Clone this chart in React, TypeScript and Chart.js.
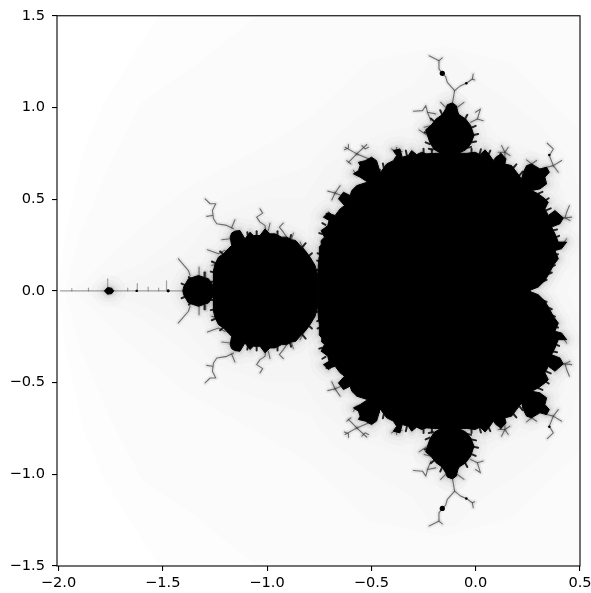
import React, { useEffect, useRef } from "react";
import { Chart, registerables } from "chart.js";

Chart.register(...registerables);

type P = [number, number];

// Values, upper half (the figure is symmetric about y = 0).
const mainBody: P[] = [
  [-0.752,0],[-0.757,0.084],[-0.754,0.148],[-0.751,0.184],[-0.748,0.211],[-0.751,0.239],[-0.738,0.257],[-0.741,0.275],[-0.725,0.293],[-0.741,0.329],[-0.722,0.344],[-0.709,0.357],[-0.703,0.384],[-0.73,0.402],[-0.706,0.429],[-0.69,0.417],[-0.674,0.411],[-0.65,0.447],[-0.629,0.465],[-0.658,0.502],[-0.634,0.538],[-0.602,0.52],[-0.594,0.547],[-0.57,0.574],[-0.546,0.583],[-0.518,0.593],[-0.554,0.62],[-0.586,0.638],[-0.562,0.656],[-0.554,0.683],[-0.562,0.701],[-0.53,0.71],[-0.499,0.729],[-0.475,0.71],[-0.463,0.665],[-0.459,0.642],[-0.427,0.692],[-0.395,0.71],[-0.379,0.738],[-0.395,0.765],[-0.363,0.774],[-0.352,0.729],[-0.323,0.738],[-0.307,0.765],[-0.283,0.743],[-0.259,0.756],[-0.235,0.747],[-0.195,0.75],
  [-0.083,0.75],[-0.043,0.75],[-0.003,0.756],[0.021,0.743],[0.045,0.769],[0.068,0.738],[0.084,0.711],[0.1,0.732],[0.124,0.747],[0.145,0.72],[0.14,0.692],[0.172,0.683],[0.196,0.647],[0.22,0.611],[0.228,0.647],[0.244,0.683],[0.268,0.692],[0.308,0.665],[0.34,0.674],[0.353,0.647],[0.332,0.62],[0.34,0.583],[0.308,0.556],[0.268,0.547],[0.3,0.529],[0.332,0.502],[0.348,0.484],[0.332,0.447],[0.348,0.411],[0.38,0.438],[0.42,0.398],[0.404,0.366],[0.364,0.348],[0.38,0.311],[0.396,0.266],[0.436,0.266],[0.412,0.23],[0.38,0.22],[0.396,0.175],[0.372,0.139],[0.356,0.103],[0.332,0.057],[0.3,0.021],[0.26,0.003],
];
const topBulb: P[] = [
  [-0.17,0.752],[-0.2,0.772],[-0.22,0.81],[-0.231,0.847],[-0.24,0.878],[-0.215,0.901],[-0.19,0.937],[-0.16,0.961],[-0.144,0.992],[-0.136,1.015],[-0.112,1.025],[-0.093,1.01],[-0.085,0.974],[-0.08,0.961],[-0.048,0.937],[-0.024,0.901],[-0.008,0.847],[-0.024,0.801],[-0.048,0.769],[-0.08,0.751],[-0.12,0.72],
];
const leftDisc: P[] = [
  [-0.754,0],[-0.757,0.084],[-0.77,0.139],[-0.794,0.184],[-0.818,0.221],[-0.842,0.248],[-0.863,0.275],[-0.882,0.279],[-0.906,0.293],[-0.93,0.293],[-0.962,0.311],[-0.986,0.311],[-1.01,0.338],[-1.034,0.302],[-1.066,0.302],[-1.082,0.32],[-1.106,0.284],[-1.13,0.329],[-1.154,0.326],[-1.17,0.315],[-1.177,0.293],[-1.17,0.248],[-1.186,0.23],[-1.209,0.202],[-1.233,0.184],[-1.249,0.147],[-1.257,0.111],[-1.257,0.056],[-1.257,0],
];
const smallDisc: P[] = [
  [-1.257,0],[-1.261,0.035],[-1.281,0.066],[-1.329,0.084],[-1.377,0.066],[-1.4,0.021],[-1.404,0],
];
const miniDisc: P[] = [[-1.78,0],[-1.765,0.018],[-1.745,0.015],[-1.735,0]];

const fringe: P[][] = [
  [[-0.75,0.11],[-0.762,0.115]],[[-0.748,0.16],[-0.76,0.165]],[[-0.745,0.2],[-0.758,0.205]],[[-0.735,0.31],[-0.75,0.315]],[[-0.72,0.36],[-0.735,0.37]],[[-0.7,0.405],[-0.715,0.42]],
  [[-0.44,0.67],[-0.445,0.695]],[[-0.33,0.74],[-0.335,0.765]],[[-0.25,0.75],[-0.25,0.775]],[[-0.21,0.75],[-0.21,0.772]],[[-0.02,0.75],[-0.02,0.775]],[[0.02,0.75],[0.025,0.772]],[[0.06,0.74],[0.07,0.765]],[[0.11,0.72],[0.12,0.75]],[[0.18,0.67],[0.195,0.69]],[[0.21,0.63],[0.225,0.65]],
  [[0.3,0.53],[0.32,0.54]],[[0.33,0.49],[0.35,0.505]],[[0.34,0.44],[0.36,0.45]],[[0.37,0.33],[0.39,0.335]],[[0.38,0.29],[0.4,0.3]],[[0.375,0.19],[0.395,0.2]],[[0.36,0.13],[0.38,0.14]],[[0.345,0.09],[0.365,0.1]],[[0.32,0.05],[0.34,0.06]],
  [[-0.8,0.19],[-0.785,0.205]],[[-0.83,0.24],[-0.815,0.26]],[[-0.89,0.28],[-0.885,0.305]],[[-0.95,0.3],[-0.95,0.325]],[[-1.05,0.3],[-1.05,0.325]],[[-1.09,0.29],[-1.095,0.32]],[[-1.21,0.2],[-1.225,0.215]],[[-1.245,0.15],[-1.265,0.16]],[[-1.25,0.1],[-1.27,0.105]],[[-1.25,0.05],[-1.27,0.05]],
  [[-1.3,0.08],[-1.3,0.1]],[[-1.36,0.06],[-1.375,0.075]],[[-1.39,0.03],[-1.41,0.04]],
  [[-0.22,0.8],[-0.24,0.81]],[[-0.205,0.77],[-0.225,0.775]],[[-0.225,0.86],[-0.245,0.865]],[[-0.2,0.925],[-0.215,0.94]],[[-0.16,0.96],[-0.17,0.985]],[[-0.05,0.94],[-0.04,0.96]],[[-0.02,0.89],[0,0.9]],[[-0.01,0.85],[0.012,0.855]],[[-0.02,0.81],[0.002,0.815]],[[-0.04,0.78],[-0.022,0.785]],
];

const branches: P[][] = [
  [[-0.112,1.019],[-0.101,1.092],[-0.136,1.137],[-0.144,1.168],[-0.16,1.186],[-0.176,1.21],[-0.176,1.255],[-0.192,1.264],[-0.223,1.282]],
  [[-0.176,1.255],[-0.16,1.27]],
  [[-0.101,1.092],[-0.072,1.119],[-0.045,1.132],[-0.016,1.155],[-0.012,1.182]],
  [[-0.016,1.155],[-0.005,1.15]],
  [[-0.192,0.965],[-0.231,0.974],[-0.239,1.01],[-0.255,0.983],[-0.298,0.979]],
  [[-0.231,0.974],[-0.215,0.928]],
  [[-0.144,1.001],[-0.168,1.028]],
  [[-0.088,1.001],[-0.056,1.028]],
  [[-0.024,0.919],[0.008,0.937],[0.023,0.992],[-0.0005,0.974]],
  [[0.008,0.937],[0.036,0.928]],
  [[-0.231,0.847],[-0.255,0.865],[-0.271,0.878]],
  [[-0.215,0.901],[-0.247,0.892]],
  [[-0.57,0.747],[-0.626,0.783]],
  [[-0.57,0.747],[-0.522,0.798]],
  [[-0.57,0.747],[-0.61,0.701]],
  [[-0.57,0.747],[-0.514,0.72]],
  [[-0.629,0.769],[-0.61,0.779],[-0.61,0.798]],
  [[-0.546,0.792],[-0.53,0.774],[-0.514,0.783]],
  [[-0.618,0.71],[-0.598,0.692]],
  [[-0.674,0.534],[-0.709,0.544]],
  [[-0.674,0.534],[-0.65,0.574]],
  [[-0.674,0.534],[-0.69,0.496]],
  [[-0.674,0.534],[-0.645,0.52]],
  [[-0.379,0.756],[-0.403,0.774]],
  [[-0.379,0.756],[-0.352,0.761]],
  [[-0.379,0.756],[-0.379,0.783]],
  [[-0.586,0.656],[-0.57,0.629]],
  [[0.332,0.671],[0.372,0.683],[0.412,0.711]],
  [[0.372,0.683],[0.396,0.647]],
  [[0.372,0.683],[0.353,0.738],[0.372,0.774],[0.343,0.805]],
  [[0.348,0.411],[0.428,0.398],[0.46,0.402]],
  [[0.428,0.398],[0.452,0.384]],
  [[0.428,0.398],[0.436,0.429],[0.449,0.465]],
  [[0.412,0.248],[0.436,0.284]],
  [[0.14,0.72],[0.14,0.756],[0.124,0.792]],
  [[0.14,0.756],[0.156,0.783]],
  [[0.14,0.756],[0.164,0.738]],
  [[0.14,0.756],[0.108,0.756]],
  [[0.268,0.692],[0.244,0.714]],
  [[0.268,0.692],[0.292,0.711]],
  [[-1.297,0.502],[-1.273,0.475],[-1.246,0.475],[-1.262,0.438],[-1.257,0.393],[-1.241,0.366],[-1.193,0.357],[-1.161,0.339]],
  [[-1.262,0.411],[-1.289,0.406]],
  [[-1.154,0.388],[-1.17,0.344]],
  [[-1.034,0.447],[-1.021,0.424],[-1.05,0.402],[-1.034,0.375],[-1.01,0.357],[-1.007,0.329]],
  [[-0.922,0.369],[-0.941,0.348],[-0.922,0.32],[-0.906,0.293]],
  [[-0.874,0.315],[-0.882,0.284]],
  [[-0.842,0.266],[-0.826,0.23]],
  [[-0.986,0.369],[-0.994,0.329]],
  [[-1.286,0.224],[-1.233,0.202],[-1.201,0.221]],
  [[-1.217,0.279],[-1.177,0.284]],
  [[-1.265,0.139],[-1.233,0.147]],
  [[-1.425,0.175],[-1.377,0.111],[-1.369,0.084]],
  [[-1.326,0.13],[-1.326,0.084]],
  [[-1.297,0.103],[-1.294,0.075]],
];
const spikes: P[][] = [
  [[-1.99,0],[-1.39,0]],
  [[-1.764,0.066],[-1.764,0]],
  [[-1.622,0.04],[-1.622,0]],
  [[-1.482,0.055],[-1.482,0]],
  [[-1.936,0.012],[-1.936,0]],
  [[-1.856,0.015],[-1.856,0]],
  [[-1.668,0.015],[-1.668,0]],
  [[-1.57,0.02],[-1.57,0]],
  [[-1.52,0.015],[-1.52,0]],
];

const blackDots: P[] = [[-0.16,1.186],[-0.045,1.132],[0.353,0.741],[-1.625,0],[-1.474,0]];
const dotSizes: number[] = [2.6,1.3,1.3,1.1,1.3];

const levelA: P[] = [[-2,0],[-1.97,0.3],[-1.88,0.76],[-1.78,1.03],[-1.52,1.5],[-1.3,1.9],[0.7,1.9],[0.7,0]];
const levelB: P[] = [[-1.97,0],[-1.9,0.3],[-1.75,0.7],[-1.6,1.03],[-1.33,1.24],[-1.05,1.5],[-0.9,1.8],[0.7,1.8],[0.7,0]];
const levelC: P[] = [[-1.93,0],[-1.7,0.25],[-1.4,0.55],[-1,0.8],[-0.79,0.945],[-0.516,1.255],[-0.153,1.337],[0.167,1.24],[0.488,0.89],[0.62,0.5],[0.62,0]];
const levelD: P[] = [[-1.9,0],[-1.6,0.15],[-1.4,0.33],[-1.2,0.52],[-1,0.6],[-0.8,0.68],[-0.7,0.82],[-0.5,1],[-0.3,1.12],[-0.2,1.3],[-0.1,1.28],[0.05,1.12],[0.3,0.92],[0.46,0.7],[0.52,0.4],[0.5,0.15],[0.44,0]];
const levelE: P[] = [[-1.8,0],[-1.6,0.08],[-1.4,0.2],[-1.25,0.4],[-1,0.5],[-0.83,0.5],[-0.72,0.68],[-0.55,0.82],[-0.3,0.9],[-0.27,1.02],[-0.1,1.12],[0,1],[0.1,0.85],[0.3,0.75],[0.42,0.55],[0.46,0.3],[0.4,0.1],[0.35,0]];
const levelColors: string[] = ["#fdfdfd","#fbfbfb","#f9f9f9","#f7f7f7","#f5f5f5"];

const xMin = -2.007;
const xMax = 0.5;
const yMin = -1.5;
const yMax = 1.5;

const pts = (a: P[]) => a.map(([x, y]) => ({ x, y }));
const flip = (a: P[]): P[] => a.map(([x, y]) => [x, -y] as P);
const closed = (a: P[]): P[] => a.concat(flip(a).reverse());
const label = (v: number) => v.toFixed(1).replace("-", "\u2212");

const frame = {
  id: "frame",
  afterDraw(chart: any) {
    const { ctx, chartArea: a } = chart;
    ctx.save();
    ctx.strokeStyle = "#000";
    ctx.lineWidth = 1.1;
    ctx.strokeRect(a.left, a.top, a.right - a.left, a.bottom - a.top);
    ctx.restore();
  },
};

export default function App() {
  const ref = useRef<HTMLCanvasElement>(null);
  useEffect(() => {
    const line = (data: P[], color: string, width: number) => ({
      data: pts(data), showLine: true, pointRadius: 0, borderColor: color, borderWidth: width,
      fill: false, borderJoinStyle: "round" as const, borderCapStyle: "round" as const,
    });
    const shape = (data: P[], color: string, edge = 0) => ({
      data: pts(data), showLine: true, pointRadius: 0, borderColor: color, borderWidth: edge,
      backgroundColor: color, fill: "shape" as const,
    });
    const shapes = [closed(mainBody), topBulb, flip(topBulb), closed(leftDisc), closed(smallDisc), closed(miniDisc)];
    const allBranches = branches.concat(branches.map(flip));
    const allFringe = fringe.concat(fringe.map(flip));
    const glow = (w: number, a: number) => shapes.map((s) => line(s, `rgba(0,0,0,${a})`, w));
    const datasets: any[] = [
      { data: pts(blackDots.concat(flip(blackDots))), showLine: false, backgroundColor: "#000", borderWidth: 0,
        pointRadius: dotSizes.concat(dotSizes) },
      ...shapes.map((s) => shape(s, "#000", 1)),
      ...allFringe.map((b) => line(b, "rgba(15,15,15,0.9)", 2)),
      ...allBranches.map((b) => line(b, "rgba(55,55,55,0.7)", 1.1)),
      ...spikes.map((b) => line(b, "rgba(90,90,90,0.55)", 1.2)),
      ...glow(4, 0.08),
      ...glow(9, 0.04),
      ...glow(16, 0.025),
      ...glow(26, 0.015),
      ...allBranches.map((b) => line(b, "rgba(0,0,0,0.05)", 5)),
      shape(closed(levelE), levelColors[4]),
      shape(closed(levelD), levelColors[3]),
      shape(closed(levelC), levelColors[2]),
      shape(closed(levelB), levelColors[1]),
      shape(closed(levelA), levelColors[0]),
    ];
    const tickFont = { family: "DejaVu Sans", size: 14.6 };
    const chart = new Chart(ref.current!, {
      type: "scatter",
      data: { datasets },
      plugins: [frame],
      options: {
        animation: false,
        responsive: false,
        events: [],
        elements: { line: { tension: 0 } },
        layout: { padding: { left: 0, top: 15, right: 11, bottom: 0 } },
        plugins: { legend: { display: false }, tooltip: { enabled: false } },
        scales: {
          x: {
            type: "linear", min: xMin, max: xMax,
            border: { display: false },
            grid: { drawOnChartArea: false, drawTicks: true, tickLength: 5, tickColor: "#000", lineWidth: 1.1 },
            ticks: { stepSize: 0.5, includeBounds: false, autoSkip: false, maxRotation: 0, color: "#000", font: tickFont, padding: 3,
              callback: (v: any) => label(Number(v)) },
            afterFit: (s: any) => { s.height = 27; s.paddingRight = 0; s.paddingLeft = 0; },
          },
          y: {
            type: "linear", min: yMin, max: yMax,
            border: { display: false },
            grid: { drawOnChartArea: false, drawTicks: true, tickLength: 5, tickColor: "#000", lineWidth: 1.1 },
            ticks: { stepSize: 0.5, autoSkip: false, color: "#000", font: tickFont, padding: 7,
              callback: (v: any) => label(Number(v)) },
            afterFit: (s: any) => { s.width = 57; },
          },
        },
      } as any,
    });
    return () => chart.destroy();
  }, []);
  return (
    <div style={{ position: "fixed", left: 0, top: 0, width: 591, height: 593, background: "#fff" }}>
      <canvas ref={ref} width={591} height={593} style={{ display: "block" }} />
    </div>
  );
}
